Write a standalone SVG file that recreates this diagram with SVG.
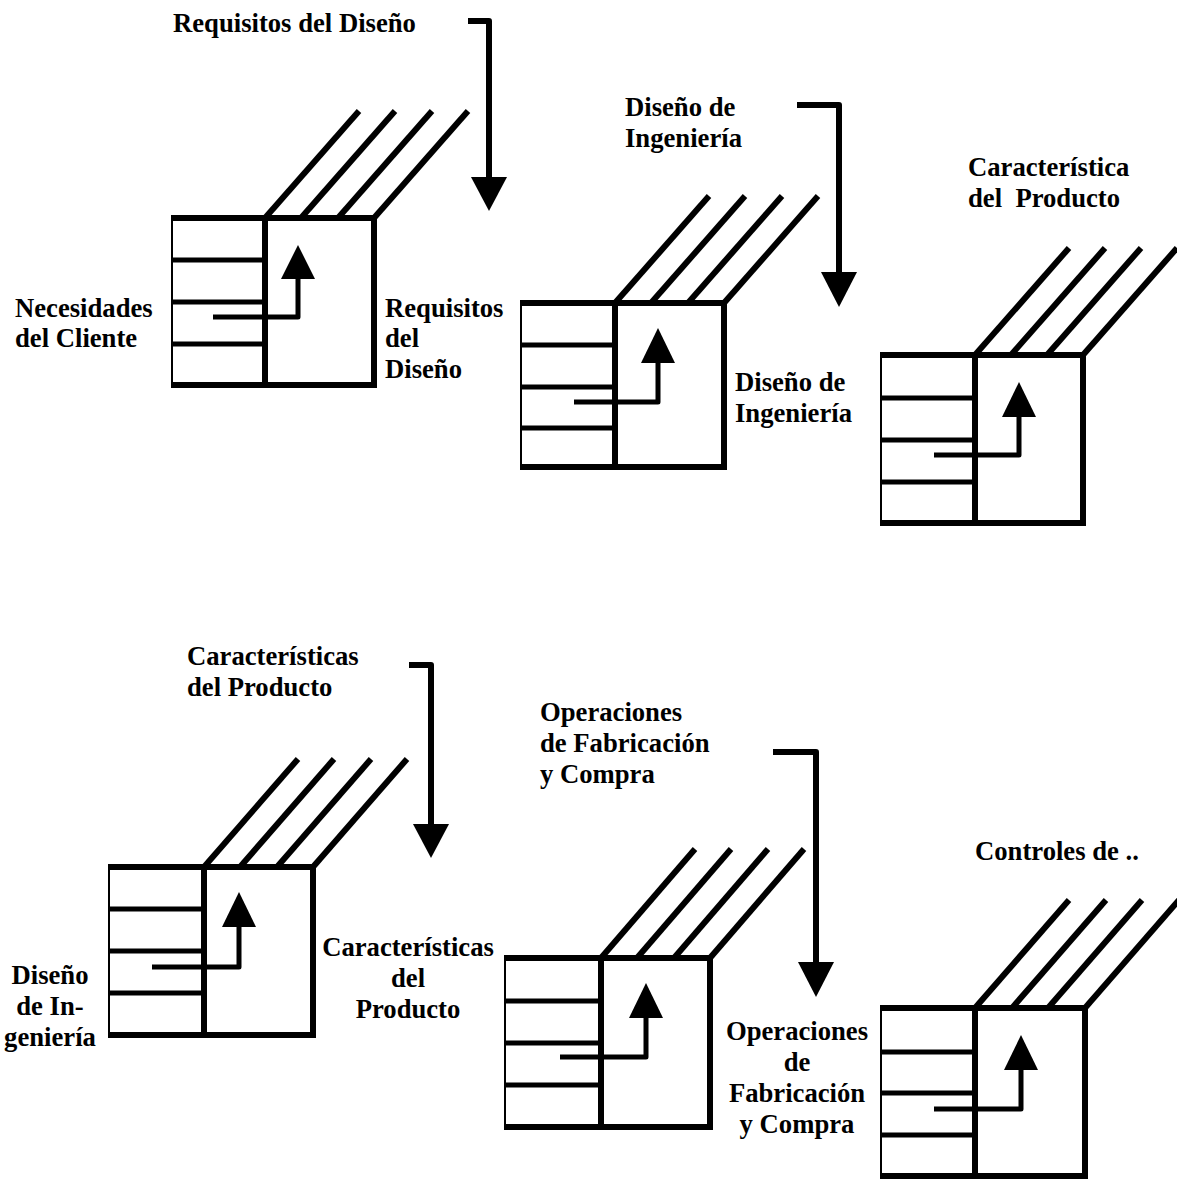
<svg xmlns="http://www.w3.org/2000/svg" width="1177" height="1179" viewBox="0 0 1177 1179">
<style>
  .bg { fill: #fff; }
  .thin { stroke: #000; stroke-width: 2; fill: none; }
  .thick { stroke: #000; stroke-width: 6; fill: none; stroke-linecap: butt; }
  .row { stroke: #000; stroke-width: 5; fill: none; }
  .diag { stroke: #000; stroke-width: 6; fill: none; }
  .inner { stroke: #000; stroke-width: 5; fill: none; stroke-linejoin: round; }
  .head { fill: #000; }
  .big { stroke: #000; stroke-width: 6; fill: none; stroke-linejoin: round; }
  text { font-family: "Liberation Serif", "Times New Roman", serif; font-weight: bold; font-size: 26.67px; fill: #000; white-space: pre; }
  .mid { text-anchor: middle; }
</style>
<rect class="bg" x="0" y="0" width="1177" height="1179"/>

<g id="matrix1">
  <line class="thin" x1="172" y1="218" x2="172" y2="385"/>
  <line class="row" x1="172" y1="260" x2="265" y2="260"/>
  <line class="row" x1="172" y1="302" x2="265" y2="302"/>
  <line class="row" x1="172" y1="344" x2="265" y2="344"/>
  <line class="thick" x1="171" y1="218" x2="377" y2="218"/>
  <line class="thick" x1="171" y1="385" x2="377" y2="385"/>
  <line class="thick" x1="265" y1="215" x2="265" y2="388"/>
  <line class="thick" x1="374" y1="215" x2="374" y2="388"/>
  <line class="diag" x1="265" y1="218" x2="359" y2="111"/>
  <line class="diag" x1="301" y1="218" x2="395" y2="111"/>
  <line class="diag" x1="338" y1="218" x2="432" y2="111"/>
  <line class="diag" x1="374" y1="218" x2="468" y2="111"/>
  <polyline class="inner" points="213,317 298,317 298,276"/>
  <polygon class="head" points="298,245 281,279 315,279"/>
</g>

<g id="matrix2">
  <line class="thin" x1="521" y1="303" x2="521" y2="467"/>
  <line class="row" x1="521" y1="345" x2="615" y2="345"/>
  <line class="row" x1="521" y1="387" x2="615" y2="387"/>
  <line class="row" x1="521" y1="428" x2="615" y2="428"/>
  <line class="thick" x1="520" y1="303" x2="727" y2="303"/>
  <line class="thick" x1="520" y1="467" x2="727" y2="467"/>
  <line class="thick" x1="615" y1="300" x2="615" y2="470"/>
  <line class="thick" x1="724" y1="300" x2="724" y2="470"/>
  <line class="diag" x1="615" y1="303" x2="709" y2="196"/>
  <line class="diag" x1="651" y1="303" x2="745" y2="196"/>
  <line class="diag" x1="688" y1="303" x2="782" y2="196"/>
  <line class="diag" x1="724" y1="303" x2="818" y2="196"/>
  <polyline class="inner" points="574,402 658,402 658,361"/>
  <polygon class="head" points="658,328 641,363 675,363"/>
</g>

<g id="matrix3">
  <line class="thin" x1="881" y1="355" x2="881" y2="523"/>
  <line class="row" x1="881" y1="398" x2="975" y2="398"/>
  <line class="row" x1="881" y1="440" x2="975" y2="440"/>
  <line class="row" x1="881" y1="482" x2="975" y2="482"/>
  <line class="thick" x1="880" y1="355" x2="1086" y2="355"/>
  <line class="thick" x1="880" y1="523" x2="1086" y2="523"/>
  <line class="thick" x1="975" y1="352" x2="975" y2="526"/>
  <line class="thick" x1="1083" y1="352" x2="1083" y2="526"/>
  <line class="diag" x1="975" y1="355" x2="1069" y2="248"/>
  <line class="diag" x1="1011" y1="355" x2="1105" y2="248"/>
  <line class="diag" x1="1047" y1="355" x2="1141" y2="248"/>
  <line class="diag" x1="1083" y1="355" x2="1177" y2="248"/>
  <polyline class="inner" points="934,455 1019,455 1019,415"/>
  <polygon class="head" points="1019,382 1002,417 1036,417"/>
</g>

<g id="matrix4">
  <line class="thin" x1="109" y1="867" x2="109" y2="1035"/>
  <line class="row" x1="109" y1="909" x2="204" y2="909"/>
  <line class="row" x1="109" y1="951" x2="204" y2="951"/>
  <line class="row" x1="109" y1="993" x2="204" y2="993"/>
  <line class="thick" x1="108" y1="867" x2="316" y2="867"/>
  <line class="thick" x1="108" y1="1035" x2="316" y2="1035"/>
  <line class="thick" x1="204" y1="864" x2="204" y2="1038"/>
  <line class="thick" x1="313" y1="864" x2="313" y2="1038"/>
  <line class="diag" x1="204" y1="867" x2="298" y2="759"/>
  <line class="diag" x1="240" y1="867" x2="334" y2="759"/>
  <line class="diag" x1="277" y1="867" x2="371" y2="759"/>
  <line class="diag" x1="313" y1="867" x2="407" y2="759"/>
  <polyline class="inner" points="152,967 239,967 239,925"/>
  <polygon class="head" points="239,892 222,927 256,927"/>
</g>

<g id="matrix5">
  <line class="thin" x1="505" y1="958" x2="505" y2="1127"/>
  <line class="row" x1="505" y1="1001" x2="601" y2="1001"/>
  <line class="row" x1="505" y1="1043" x2="601" y2="1043"/>
  <line class="row" x1="505" y1="1085" x2="601" y2="1085"/>
  <line class="thick" x1="504" y1="958" x2="713" y2="958"/>
  <line class="thick" x1="504" y1="1127" x2="713" y2="1127"/>
  <line class="thick" x1="601" y1="955" x2="601" y2="1130"/>
  <line class="thick" x1="710" y1="955" x2="710" y2="1130"/>
  <line class="diag" x1="601" y1="958" x2="695" y2="849"/>
  <line class="diag" x1="637" y1="958" x2="731" y2="849"/>
  <line class="diag" x1="674" y1="958" x2="768" y2="849"/>
  <line class="diag" x1="710" y1="958" x2="804" y2="849"/>
  <polyline class="inner" points="560,1057 646,1057 646,1016"/>
  <polygon class="head" points="646,983 629,1018 663,1018"/>
</g>

<g id="matrix6">
  <line class="thin" x1="881" y1="1008" x2="881" y2="1176"/>
  <line class="row" x1="881" y1="1052" x2="975" y2="1052"/>
  <line class="row" x1="881" y1="1093" x2="975" y2="1093"/>
  <line class="row" x1="881" y1="1135" x2="975" y2="1135"/>
  <line class="thick" x1="880" y1="1008" x2="1088" y2="1008"/>
  <line class="thick" x1="880" y1="1176" x2="1088" y2="1176"/>
  <line class="thick" x1="975" y1="1005" x2="975" y2="1179"/>
  <line class="thick" x1="1085" y1="1005" x2="1085" y2="1179"/>
  <line class="diag" x1="975" y1="1008" x2="1069" y2="900"/>
  <line class="diag" x1="1012" y1="1008" x2="1106" y2="900"/>
  <line class="diag" x1="1048" y1="1008" x2="1142" y2="900"/>
  <line class="diag" x1="1085" y1="1008" x2="1179" y2="900"/>
  <polyline class="inner" points="934,1109 1021,1109 1021,1068"/>
  <polygon class="head" points="1021,1035 1004,1070 1038,1070"/>
</g>

<g id="connectors">
  <polyline class="big" points="468,21 489,21 489,180"/>
  <polygon class="head" points="471,177 507,177 489,211"/>
  <polyline class="big" points="797,105 839,105 839,275"/>
  <polygon class="head" points="821,272 857,272 839,307"/>
  <polyline class="big" points="409,665 431,665 431,827"/>
  <polygon class="head" points="413,824 449,824 431,858"/>
  <polyline class="big" points="773,752 816,752 816,965"/>
  <polygon class="head" points="798,962 834,962 816,997"/>
</g>

<g id="labels">
  <text x="173" y="32">Requisitos del Diseño</text>
  <text x="15" y="317">Necesidades</text>
  <text x="15" y="347">del Cliente</text>
  <text x="385" y="317">Requisitos</text>
  <text x="385" y="347">del</text>
  <text x="385" y="378">Diseño</text>
  <text x="625" y="116">Diseño de</text>
  <text x="625" y="147">Ingeniería</text>
  <text x="735" y="391">Diseño de</text>
  <text x="735" y="422">Ingeniería</text>
  <text x="968" y="176">Característica</text>
  <text x="968" y="207">del  Producto</text>
  <text x="187" y="665">Características</text>
  <text x="187" y="696">del Producto</text>
  <text class="mid" x="50" y="984">Diseño</text>
  <text class="mid" x="50" y="1015">de In-</text>
  <text class="mid" x="50" y="1046">geniería</text>
  <text class="mid" x="408" y="956">Características</text>
  <text class="mid" x="408" y="987">del</text>
  <text class="mid" x="408" y="1018">Producto</text>
  <text x="540" y="721">Operaciones</text>
  <text x="540" y="752">de Fabricación</text>
  <text x="540" y="783">y Compra</text>
  <text class="mid" x="797" y="1040">Operaciones</text>
  <text class="mid" x="797" y="1071">de</text>
  <text class="mid" x="797" y="1102">Fabricación</text>
  <text class="mid" x="797" y="1133">y Compra</text>
  <text x="975" y="860">Controles de ..</text>
</g>
</svg>
